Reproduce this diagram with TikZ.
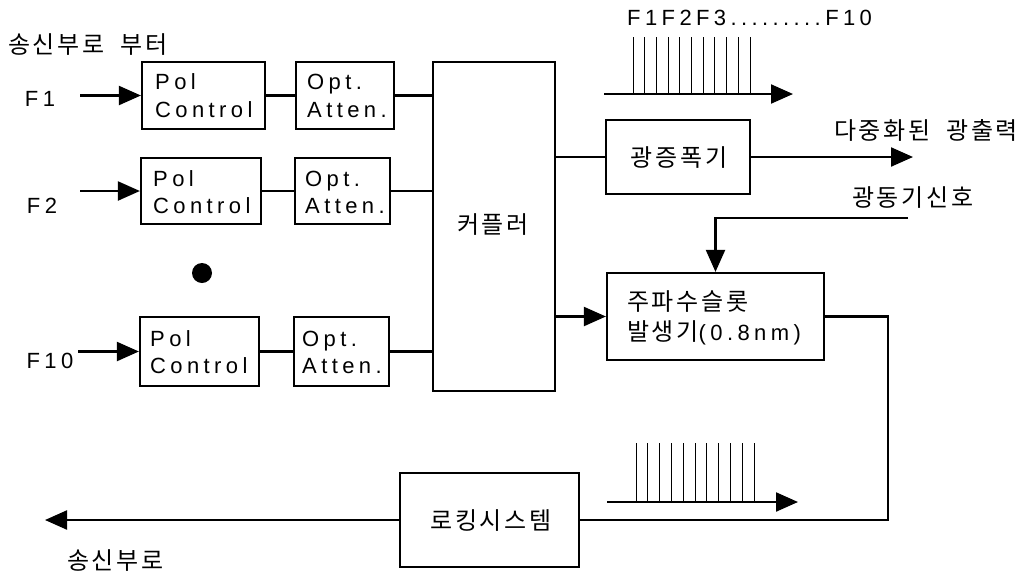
\documentclass[tikz,border=0pt]{standalone}
\usepackage{fontspec}
\usetikzlibrary{arrows.meta}
\newfontfamily\lat{Liberation Sans}[LetterSpace=20]
\newfontfamily\kr{Noto Sans CJK KR}[LetterSpace=11]
\begin{document}
\begin{tikzpicture}[x=1pt,y=-1pt,
  box/.style={draw, line width=2.2pt, inner sep=0pt},
  ln/.style={line width=2.2pt},
  arr/.style={line width=2.2pt, -{Triangle[length=22pt,width=19pt]}},
  spec/.style={line width=1pt},
  lt/.style={font=\lat\fontsize{22}{26}\selectfont, inner sep=0pt},
  kt/.style={font=\kr\fontsize{24}{30}\selectfont, inner sep=0pt},
]
\useasboundingbox (0,0) rectangle (1036,574);

% channel boxes
\node[box, minimum width=123, minimum height=67] (p1) at (203.5,95.5) {};
\node[box, minimum width=98,  minimum height=67] (o1) at (345,95.5) {};
\node[box, minimum width=120, minimum height=66] (p2) at (201,191) {};
\node[box, minimum width=95,  minimum height=66] (o2) at (342.5,191) {};
\node[box, minimum width=119, minimum height=69] (p3) at (199.5,351.5) {};
\node[box, minimum width=95,  minimum height=69] (o3) at (341.5,351.5) {};

\node[lt, anchor=base west] (p1a) at (155,89) {Pol};
\node[lt, anchor=base west] (p1b) at (155,117) {Control};
\node[lt, anchor=base west] (o1a) at (307,89) {Opt.};
\node[lt, anchor=base west] (o1b) at (307,117) {Atten.};
\node[lt, anchor=base west] (p2a) at (153,186) {Pol};
\node[lt, anchor=base west] (p2b) at (153,213) {Control};
\node[lt, anchor=base west] (o2a) at (305,186) {Opt.};
\node[lt, anchor=base west] (o2b) at (305,213) {Atten.};
\node[lt, anchor=base west] (p3a) at (150,346) {Pol};
\node[lt, anchor=base west] (p3b) at (150,373) {Control};
\node[lt, anchor=base west] (o3a) at (302,346) {Opt.};
\node[lt, anchor=base west] (o3b) at (302,373) {Atten.};

% main blocks
\node[box, minimum width=122, minimum height=329] (cp) at (494,226.5) {};
\node[kt] (cpt) at (493,225) {커플러};
\node[box, minimum width=144, minimum height=74] (am) at (678,157) {};
\node[kt] (amt) at (679,158) {광증폭기};
\node[box, minimum width=217, minimum height=87] (gn) at (715.5,316.5) {};
\node[kt, anchor=west] (gna) at (627,302) {주파수슬롯};
\node[kt, anchor=west] (gnb) at (627,333) {발생기\lat\fontsize{22}{26}\selectfont(0.8nm)};
\node[box, minimum width=179, minimum height=94] (lk) at (489.5,520) {};
\node[kt] (lkt) at (491,521) {로킹시스템};

% labels
\node[kt, anchor=west] (ttl) at (8,45) {송신부로 \hspace{8pt}부터};
\node[lt] (f1) at (40,99) {F1};
\node[lt] (f2) at (42,206) {F2};
\node[lt] (f10) at (50,361) {F10};
\node[lt, anchor=west] (fl) at (627,18) {F1F2F3.........F10};
\node[kt, anchor=west] (outl) at (834,130) {다중화된 \hspace{8pt}광출력};
\node[kt, anchor=west] (syl) at (852,198) {광동기신호};
\node[kt, anchor=west] (bkl) at (67,561) {송신부로};

% coordinates
\coordinate (i1) at (80,95.5);
\coordinate (i2) at (80,191);
\coordinate (i3) at (78,351.5);
\coordinate (out) at (913,157);
\coordinate (sy) at (908,218);
\coordinate (cr) at (888,520);
\coordinate (back) at (45,520);

% connectors
\draw[arr] (i1) -- (p1.west);
\draw[arr] (i2) -- (p2.west);
\draw[arr] (i3) -- (p3.west);
\draw[ln] (p1.east) -- (o1.west);
\draw[ln] (p2.east) -- (o2.west);
\draw[ln] (p3.east) -- (o3.west);
\draw[ln] (o1.east) -- (o1.east -| cp.west);
\draw[ln] (o2.east) -- (o2.east -| cp.west);
\draw[ln] (o3.east) -- (o3.east -| cp.west);
\draw[ln] (cp.east |- am.west) -- (am.west);
\draw[arr] (am.east) -- (out);
\draw[arr] (cp.east |- gn.west) -- (gn.west);
\draw[arr] (sy) -| (gn.north);
\draw[ln] (gn.east) -| (cr) -- (lk.east);
\draw[arr] (lk.west) -- (back);

% dot
\fill (202,273) circle (10);

% spectra
\coordinate (sa) at (604,94);
\coordinate (sb) at (793,94);
\draw[arr] (sa) -- (sb);
\foreach \i in {0,...,10} \draw[spec] (633+\i*11.7,94) -- (633+\i*11.7,37);
\coordinate (sc) at (607,502);
\coordinate (sd) at (798,502);
\draw[arr] (sc) -- (sd);
\foreach \i in {0,...,10} \draw[spec] (636+\i*11.8,502) -- (636+\i*11.8,443);
\end{tikzpicture}
\end{document}
